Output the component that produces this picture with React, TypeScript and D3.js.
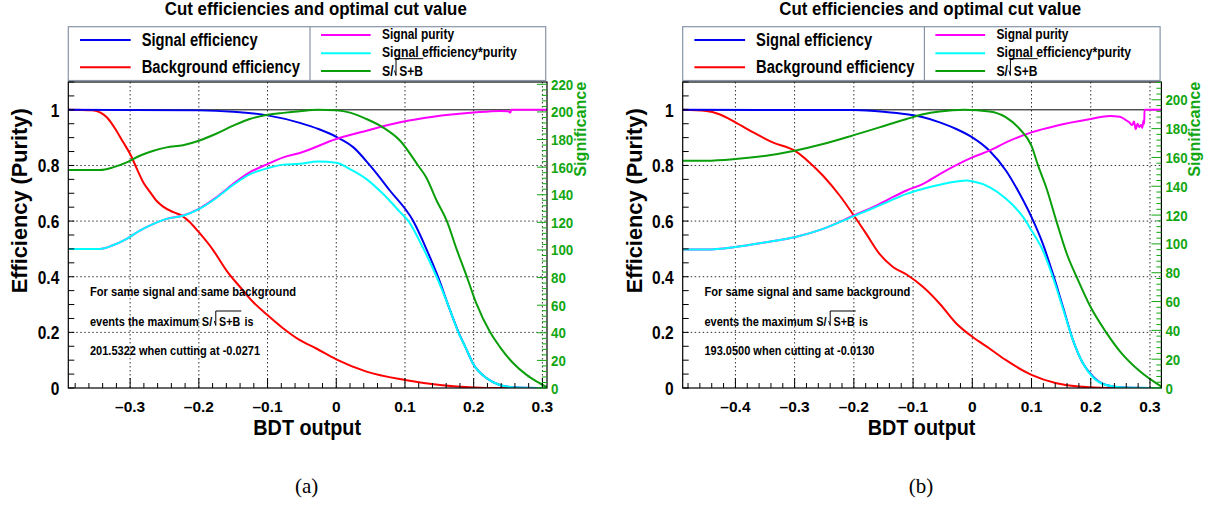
import React from "react";
import * as d3 from "d3";

type P = [number, number];

// ---------------- data: panel (a) ----------------
const xDomainA: [number, number] = [-0.39, 0.3067];
const sigMaxA = 201.5322;
const bgEffA: P[] = [[-0.39,1],[-0.355,0.998],[-0.343,0.99],[-0.334,0.973],[-0.32,0.925],[-0.31,0.883],[-0.3,0.841],[-0.29,0.787],[-0.281,0.74],[-0.271,0.704],[-0.262,0.674],[-0.252,0.652],[-0.237,0.632],[-0.225,0.62],[-0.213,0.596],[-0.2,0.56],[-0.179,0.495],[-0.16,0.423],[-0.14,0.363],[-0.121,0.309],[-0.1,0.262],[-0.077,0.214],[-0.053,0.172],[-0.029,0.142],[0,0.103],[0.044,0.059],[0.1,0.029],[0.151,0.011],[0.2,0.002],[0.238,0],[0.3067,0]];
const sigEffA: P[] = [[-0.39,1],[-0.2,0.998],[-0.15,0.993],[-0.1,0.98],[-0.053,0.953],[-0.025,0.93],[0,0.903],[0.025,0.865],[0.049,0.8],[0.078,0.71],[0.112,0.6],[0.132,0.495],[0.148,0.4],[0.163,0.297],[0.178,0.2],[0.19,0.136],[0.199,0.088],[0.219,0.035],[0.238,0.011],[0.262,0.002],[0.3067,0]];
const purityA: P[] = [[-0.39,0.5],[-0.344,0.5],[-0.325,0.513],[-0.305,0.536],[-0.286,0.566],[-0.266,0.59],[-0.247,0.608],[-0.223,0.62],[-0.2,0.644],[-0.174,0.686],[-0.15,0.734],[-0.126,0.775],[-0.1,0.805],[-0.077,0.829],[-0.053,0.845],[0,0.895],[0.044,0.925],[0.093,0.955],[0.141,0.975],[0.2,0.99],[0.238,0.996],[0.25,0.995],[0.2535,0.99],[0.2545,1],[0.3067,1]];
const effPurA: P[] = [[-0.39,0.5],[-0.344,0.5],[-0.325,0.513],[-0.305,0.536],[-0.286,0.566],[-0.266,0.59],[-0.247,0.608],[-0.223,0.619],[-0.2,0.643],[-0.174,0.684],[-0.15,0.73],[-0.126,0.768],[-0.1,0.79],[-0.077,0.803],[-0.053,0.806],[-0.027,0.814],[0,0.81],[0.02,0.787],[0.044,0.751],[0.068,0.698],[0.093,0.632],[0.105,0.6],[0.127,0.5],[0.146,0.4],[0.163,0.297],[0.178,0.198],[0.19,0.136],[0.199,0.088],[0.219,0.035],[0.238,0.011],[0.262,0.002],[0.3067,0]];
const signifA: P[] = [[-0.39,0.784],[-0.344,0.784],[-0.325,0.793],[-0.305,0.811],[-0.286,0.835],[-0.266,0.853],[-0.247,0.865],[-0.223,0.873],[-0.2,0.889],[-0.174,0.915],[-0.15,0.943],[-0.126,0.967],[-0.1,0.982],[-0.077,0.989],[-0.053,0.995],[-0.027,1],[0,0.998],[0.02,0.99],[0.044,0.967],[0.068,0.937],[0.093,0.889],[0.119,0.8],[0.131,0.757],[0.146,0.674],[0.161,0.6],[0.175,0.5],[0.19,0.4],[0.204,0.303],[0.224,0.2],[0.238,0.148],[0.258,0.088],[0.277,0.047],[0.292,0.023],[0.3067,0.003]];
const xTicksA = [-0.3, -0.2, -0.1, 0, 0.1, 0.2, 0.3];
const sigTicksA = [0, 20, 40, 60, 80, 100, 120, 140, 160, 180, 200, 220];
const noteA = ["For same signal and same background", "events the maximum S/", "S+B", "is", "201.5322 when cutting at -0.0271"];

// ---------------- data: panel (b) ----------------
const xDomainB: [number, number] = [-0.489, 0.3193];
const sigMaxB = 193.05;
const bgEffB: P[] = [[-0.489,1],[-0.449,0.996],[-0.427,0.984],[-0.4,0.955],[-0.37,0.919],[-0.337,0.883],[-0.3,0.853],[-0.275,0.811],[-0.252,0.763],[-0.224,0.692],[-0.2,0.62],[-0.179,0.554],[-0.157,0.483],[-0.134,0.435],[-0.111,0.408],[-0.083,0.363],[-0.055,0.303],[-0.027,0.232],[0,0.184],[0.029,0.142],[0.057,0.1],[0.1,0.047],[0.142,0.017],[0.181,0.005],[0.226,0],[0.3193,0]];
const sigEffB: P[] = [[-0.489,1],[-0.2,0.999],[-0.15,0.993],[-0.111,0.984],[-0.083,0.973],[-0.055,0.955],[-0.027,0.931],[0,0.901],[0.029,0.853],[0.057,0.781],[0.08,0.698],[0.1,0.614],[0.119,0.519],[0.136,0.411],[0.153,0.292],[0.17,0.172],[0.187,0.088],[0.204,0.041],[0.226,0.011],[0.255,0.002],[0.3193,0]];
const purityB: P[] = [[-0.489,0.498],[-0.449,0.498],[-0.4,0.507],[-0.348,0.524],[-0.3,0.542],[-0.252,0.572],[-0.2,0.62],[-0.168,0.65],[-0.14,0.68],[-0.111,0.71],[-0.083,0.734],[-0.055,0.769],[0,0.829],[0.029,0.853],[0.057,0.883],[0.1,0.919],[0.142,0.943],[0.2,0.967],[0.232,0.978],[0.249,0.975],[0.258,0.965],[0.265,0.955],[0.27,0.945],[0.273,0.958],[0.276,0.93],[0.279,0.95],[0.282,0.938],[0.285,0.945],[0.287,0.935],[0.289,0.962],[0.2903,0.95],[0.2908,1],[0.3193,1]];
const effPurB: P[] = [[-0.489,0.498],[-0.449,0.498],[-0.4,0.507],[-0.348,0.524],[-0.3,0.542],[-0.252,0.572],[-0.2,0.618],[-0.168,0.646],[-0.14,0.672],[-0.111,0.698],[-0.083,0.716],[-0.055,0.731],[-0.027,0.742],[-0.01,0.746],[0,0.743],[0.029,0.722],[0.057,0.68],[0.086,0.614],[0.1,0.566],[0.119,0.495],[0.136,0.399],[0.153,0.286],[0.17,0.172],[0.187,0.088],[0.204,0.038],[0.226,0.011],[0.255,0.002],[0.3193,0]];
const signifB: P[] = [[-0.489,0.817],[-0.449,0.817],[-0.4,0.823],[-0.348,0.835],[-0.3,0.853],[-0.252,0.877],[-0.2,0.909],[-0.157,0.937],[-0.111,0.967],[-0.083,0.984],[-0.055,0.994],[-0.013,1],[0.029,0.994],[0.057,0.973],[0.08,0.931],[0.1,0.87],[0.111,0.8],[0.125,0.72],[0.142,0.6],[0.16,0.48],[0.176,0.4],[0.2,0.29],[0.226,0.2],[0.25,0.13],[0.283,0.06],[0.3193,0.005]];
const xTicksB = [-0.4, -0.3, -0.2, -0.1, 0, 0.1, 0.2, 0.3];
const sigTicksB = [0, 20, 40, 60, 80, 100, 120, 140, 160, 180, 200];
const noteB = ["For same signal and same background", "events the maximum S/", "S+B", "is", "193.0500 when cutting at -0.0130"];

const yTicks = [0, 0.2, 0.4, 0.6, 0.8, 1];
const title = "Cut efficiencies and optimal cut value";
const legendLeft = ["Signal efficiency", "Background efficiency"];
const legendRight = ["Signal purity", "Signal efficiency*purity"];

// ---------------- styling ----------------
const SANS = "'Liberation Sans', Arial, Helvetica, sans-serif";
const SERIF = "'Liberation Serif', 'DejaVu Serif', serif";
const C_BLUE = "#0000f0";
const C_RED = "#ff0000";
const C_MAG = "#ff00ff";
const C_CYAN = "#00ffff";
const C_GREEN = "#0a9e0a";
const C_AXG = "#12a612";
const FT = 82, FB = 388, FW = 478.7;

function T(p: any) {
  const { x, y, size, anchor = "start", fill = "#000", len, sx = 1, rot = 0, family = SANS, weight = "bold", children } = p;
  let tr = `translate(${x},${y})`;
  if (rot) tr += ` rotate(${rot})`;
  if (sx !== 1) tr += ` scale(${sx},1)`;
  return (
    <text transform={tr} fontSize={size} fontFamily={family} fontWeight={weight} textAnchor={anchor} fill={fill}
      textLength={len} lengthAdjust={len ? "spacingAndGlyphs" : undefined}>{children}</text>
  );
}

function Panel(props: any) {
  const { id, x0, xDomain, bg, sig, pur, effpur, signif, xTicks, sigTicks, sigMax, note, tag } = props;
  const x1 = x0 + FW;
  const xs = d3.scaleLinear().domain(xDomain).range([x0, x1]);
  const ys = d3.scaleLinear().domain([0, 1.1]).range([FB, FT]);
  const ss = d3.scaleLinear().domain([0, sigMax * 1.1]).range([FB, FT]);
  const line = d3.line<P>().x(d => xs(d[0])).y(d => ys(d[1])).curve(d3.curveMonotoneX);

  const minorX: number[] = [];
  for (let i = Math.ceil(xDomain[0] * 50); i <= Math.floor(xDomain[1] * 50 + 1e-6); i++) minorX.push(i);
  const minorY: number[] = d3.range(0, 23).map(i => i * 0.05);
  const sigMinor: number[] = [];
  for (let i = 0; i * 4 <= sigMax * 1.1; i++) sigMinor.push(i);

  const fmtX = (v: number) => (v < 0 ? "\u2013" : "") + d3.format("")(Math.abs(+v.toFixed(2)));
  const fmtY = (v: number) => d3.format("")(+v.toFixed(2));
  const grid = { stroke: "#000", strokeWidth: 1, strokeDasharray: "1.5,2.5", opacity: 0.8 };
  const cx = (x0 + x1) / 2;

  return (
    <g>
      <defs>
        <clipPath id={`clip-${id}`}><rect x={x0} y={FT} width={FW} height={FB - FT} /></clipPath>
      </defs>
      {/* grid */}
      {xTicks.map((v: number) => (
        <line key={`gx${v}`} x1={xs(v)} x2={xs(v)} y1={FT} y2={FB} {...grid} />
      ))}
      {yTicks.filter(v => v > 0 && v < 1).map(v => (
        <line key={`gy${v}`} x1={x0} x2={x1} y1={ys(v)} y2={ys(v)} {...grid} />
      ))}
      <line x1={x0} x2={x1} y1={ys(1)} y2={ys(1)} stroke="#000" strokeWidth={1} />
      {/* curves */}
      <g clipPath={`url(#clip-${id})`} fill="none" strokeWidth={2} strokeLinejoin="round">
        <path d={line(bg) || ""} stroke={C_RED} />
        <path d={line(sig) || ""} stroke={C_BLUE} />
        <path d={line(pur) || ""} stroke={C_MAG} />
        <path d={line(effpur) || ""} stroke={C_CYAN} />
        <path d={line(signif) || ""} stroke={C_GREEN} />
      </g>
      {/* frame */}
      <rect x={x0} y={FT} width={FW} height={FB - FT} fill="none" stroke="#000" strokeWidth={1.2} />
      {/* x ticks */}
      {minorX.map(i => (
        <line key={`tx${i}`} x1={xs(i / 50)} x2={xs(i / 50)} y1={FB} y2={FB - (i % 5 === 0 ? 10 : 5)} stroke="#000" strokeWidth={1} />
      ))}
      {xTicks.map((v: number) => (
        <T key={`lx${v}`} x={xs(v)} y={411.7} size={15.5} anchor="middle">{fmtX(v)}</T>
      ))}
      {/* y ticks */}
      {minorY.map((v, i) => (
        <line key={`ty${i}`} x1={x0} x2={x0 + 6} y1={ys(v)} y2={ys(v)} stroke="#000" strokeWidth={1} />
      ))}
      {yTicks.map(v => (
        <T key={`ly${v}`} x={x0 - 9} y={ys(v) + 7} size={18.5} anchor="end" sx={0.84}>{fmtY(v)}</T>
      ))}
      {/* significance axis */}
      {sigMinor.map(i => (
        <line key={`ts${i}`} x1={x1} x2={x1 - (i % 5 === 0 ? 10 : 5)} y1={ss(i * 4)} y2={ss(i * 4)} stroke={C_AXG} strokeWidth={1} />
      ))}
      {sigTicks.map((v: number) => (
        <T key={`ls${v}`} x={x1 + 4} y={ss(v) + 5.5} size={15.5} sx={0.86} fill={C_AXG}>{String(v)}</T>
      ))}
      <T x={x1 + 39} y={176.7} size={16} rot={-90} len={95} fill={C_AXG}>Significance</T>
      {/* axis titles */}
      <T x={x0 - 41} y={293.3} size={22} rot={-90} len={185}>Efficiency (Purity)</T>
      <T x={x0 + 185} y={435} size={22} len={107.7}>BDT output</T>
      {/* title */}
      <T x={x0 + 96.5} y={14.5} size={18} len={302}>{title}</T>
      {/* legend */}
      <rect x={x0} y={26.7} width={477.4} height={53.8} fill="#fff" stroke="#8894a8" strokeWidth={1.2} />
      <line x1={x0 + 241.7} x2={x0 + 241.7} y1={26.7} y2={80.5} stroke="#8894a8" strokeWidth={1.2} />
      <line x1={x0 + 11.7} x2={x0 + 62.4} y1={40} y2={40} stroke={C_BLUE} strokeWidth={2} />
      <line x1={x0 + 11.7} x2={x0 + 62.4} y1={67.3} y2={67.3} stroke={C_RED} strokeWidth={2} />
      <T x={x0 + 73.4} y={46} size={18} len={116}>{legendLeft[0]}</T>
      <T x={x0 + 73.4} y={73.3} size={18} len={158.3}>{legendLeft[1]}</T>
      <line x1={x0 + 252.7} x2={x0 + 302.4} y1={35} y2={35} stroke={C_MAG} strokeWidth={2} />
      <line x1={x0 + 252.7} x2={x0 + 302.4} y1={53.3} y2={53.3} stroke={C_CYAN} strokeWidth={2} />
      <line x1={x0 + 252.7} x2={x0 + 302.4} y1={71} y2={71} stroke={C_GREEN} strokeWidth={2} />
      <T x={x0 + 313.7} y={39.3} size={14} len={72}>{legendRight[0]}</T>
      <T x={x0 + 313.7} y={57.3} size={14} len={134.7}>{legendRight[1]}</T>
      <T x={x0 + 313.7} y={76} size={14} sx={0.88}>S/</T>
      <path d={`M${x0 + 326.2},${70.5} L${x0 + 327.7},${75.5} L${x0 + 327.7},${58.7} L${x0 + 355},${58.7}`} fill="none" stroke="#000" strokeWidth={1} />
      <T x={x0 + 331} y={76} size={14} sx={0.86}>S+B</T>
      {/* note */}
      <T x={x0 + 21.7} y={296} size={12.5} len={206}>{note[0]}</T>
      <T x={x0 + 21.7} y={325.7} size={12.5} sx={0.88}>{note[1]}</T>
      <path d={`M${x0 + 146},${321} L${x0 + 147.5},${325.5} L${x0 + 147.5},${311} L${x0 + 173},${311}`} fill="none" stroke="#000" strokeWidth={1} />
      <T x={x0 + 150.8} y={325.7} size={12.5} sx={0.86}>{note[2]}</T>
      <T x={x0 + 176.2} y={325.7} size={12.5} sx={0.86}>{note[3]}</T>
      <T x={x0 + 21.7} y={355} size={12.5} len={170}>{note[4]}</T>
      {/* caption */}
      <T x={cx - 1} y={493} size={21} anchor="middle" family={SERIF} weight="normal">{tag}</T>
    </g>
  );
}

export default function App() {
  return (
    <svg width={1212} height={506} viewBox="0 0 1212 506" style={{ position: "absolute", left: 0, top: 0, display: "block", background: "#fff" }}>
      <rect x={0} y={0} width={1212} height={506} fill="#fff" />
      <Panel id="a" x0={68.3} xDomain={xDomainA} bg={bgEffA} sig={sigEffA} pur={purityA} effpur={effPurA} signif={signifA}
        xTicks={xTicksA} sigTicks={sigTicksA} sigMax={sigMaxA} note={noteA} tag="(a)" />
      <Panel id="b" x0={682.7} xDomain={xDomainB} bg={bgEffB} sig={sigEffB} pur={purityB} effpur={effPurB} signif={signifB}
        xTicks={xTicksB} sigTicks={sigTicksB} sigMax={sigMaxB} note={noteB} tag="(b)" />
    </svg>
  );
}
